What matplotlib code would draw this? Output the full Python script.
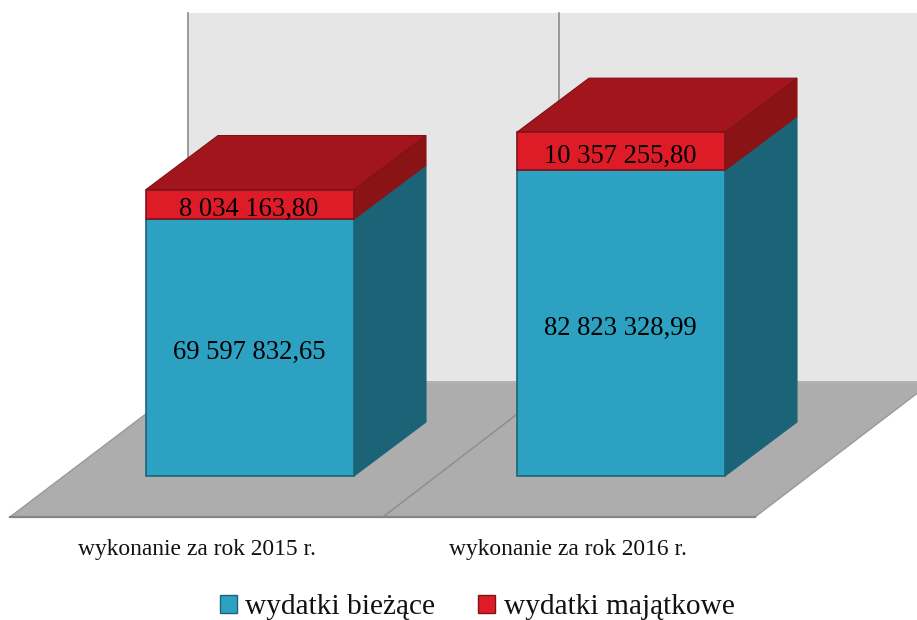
import matplotlib
matplotlib.use("Agg")
import matplotlib.pyplot as plt
from matplotlib.patches import Patch, Polygon

categories = ["wykonanie za rok 2015 r.", "wykonanie za rok 2016 r."]
biezace = [69597832.65, 82823328.99]
majatkowe = [8034163.80, 10357255.80]
biezace_labels = ["69 597 832,65", "82 823 328,99"]
majatkowe_labels = ["8 034 163,80", "10 357 255,80"]
series_names = ["wydatki bieżące", "wydatki majątkowe"]

plt.rcParams["font.family"] = ["Liberation Serif", "DejaVu Serif"]

# one category step is 371 px, one zloty is 3.69e-6 px
PX_X = 371.0
PX_Y = 3.69e-6
BASE_X = 250.0
BASE_Y = 476.0
DEPTH_X = 72 / PX_X
DEPTH_Y = 54 / PX_Y
WIDTH = 208 / PX_X


def dx(px):
    return (px - BASE_X) / PX_X


def dy(px):
    return (BASE_Y - px) / PX_Y


fig = plt.figure(figsize=(9.17, 6.2), dpi=100)
ax = fig.add_axes([0, 0, 1, 1])
ax.set_xlim(dx(0), dx(917))
ax.set_ylim(dy(620), dy(0))
ax.axis("off")

# back wall and floor
ax.add_patch(Polygon([(dx(188), dy(13)), (dx(930), dy(13)), (dx(930), dy(382)), (dx(188), dy(382))],
                     facecolor="#e6e6e6", edgecolor="none", zorder=1))
ax.add_patch(Polygon([(dx(10), dy(517)), (dx(755), dy(517)), (dx(932), dy(382)), (dx(188), dy(382))],
                     facecolor="#adadad", edgecolor="#999999", linewidth=1.0, zorder=2))
ax.plot([dx(10), dx(755)], [dy(517), dy(517)], color="#858585", linewidth=1.6, zorder=3)
ax.plot([dx(188), dx(188)], [dy(13), dy(382)], color="#8c8c8c", linewidth=1.2, zorder=3)
ax.plot([dx(559), dx(559)], [dy(13), dy(382)], color="#8c8c8c", linewidth=1.2, zorder=3)
ax.plot([dx(383), dx(559)], [dy(517), dy(382)], color="#8c8c8c", linewidth=1.0, zorder=3)
ax.plot([dx(188), dx(930)], [dy(382), dy(382)], color="#b4b4b4", linewidth=1.0, zorder=3)

ax.bar(range(2), biezace, width=WIDTH, color="#2ca1c1", edgecolor="#1b6478", linewidth=1.2, zorder=6)
ax.bar(range(2), majatkowe, width=WIDTH, bottom=biezace, color="#dd1c28", edgecolor="#7f1218", linewidth=1.2, zorder=6)

for i in range(2):
    right = i + WIDTH / 2
    left = i - WIDTH / 2
    low = biezace[i]
    top = biezace[i] + majatkowe[i]
    # side faces
    ax.add_patch(Polygon([(right, 0), (right + DEPTH_X, DEPTH_Y), (right + DEPTH_X, low + DEPTH_Y), (right, low)],
                         facecolor="#1b6478", edgecolor="#1b6478", linewidth=0.8, zorder=5))
    ax.add_patch(Polygon([(right, low), (right + DEPTH_X, low + DEPTH_Y), (right + DEPTH_X, top + DEPTH_Y), (right, top)],
                         facecolor="#8a1316", edgecolor="#8a1316", linewidth=0.8, zorder=5))
    # top face
    ax.add_patch(Polygon([(left, top), (left + DEPTH_X, top + DEPTH_Y), (right + DEPTH_X, top + DEPTH_Y), (right, top)],
                         facecolor="#a3151c", edgecolor="#7f1218", linewidth=0.8, zorder=5))
    ax.text(i - 0.003, low / 2 - 1.4e6, biezace_labels[i], ha="center", va="center", fontsize=19.2, color="black", zorder=8)
    ax.text(i - 0.003, low + majatkowe[i] / 2 - 1.3e6, majatkowe_labels[i], ha="center", va="center", fontsize=19.2,
            color="black", zorder=8)
    ax.text(dx(197) + i, dy(549), categories[i], ha="center", va="center", fontsize=16.9, color="#111111")

handles = [Patch(facecolor="#2ca1c1", edgecolor="#1b6478", label=series_names[0]),
           Patch(facecolor="#dd1c28", edgecolor="#7f1218", label=series_names[1])]
ax.legend(handles=handles, loc="center", bbox_to_anchor=(477 / 917, 1 - 607.5 / 620), ncol=2, frameon=False,
          fontsize=21.2, handlelength=0.59, handleheight=0.59, handletextpad=0.28, columnspacing=1.45,
          labelcolor="#111111", borderpad=0)

fig.savefig("out.png", dpi=100)
